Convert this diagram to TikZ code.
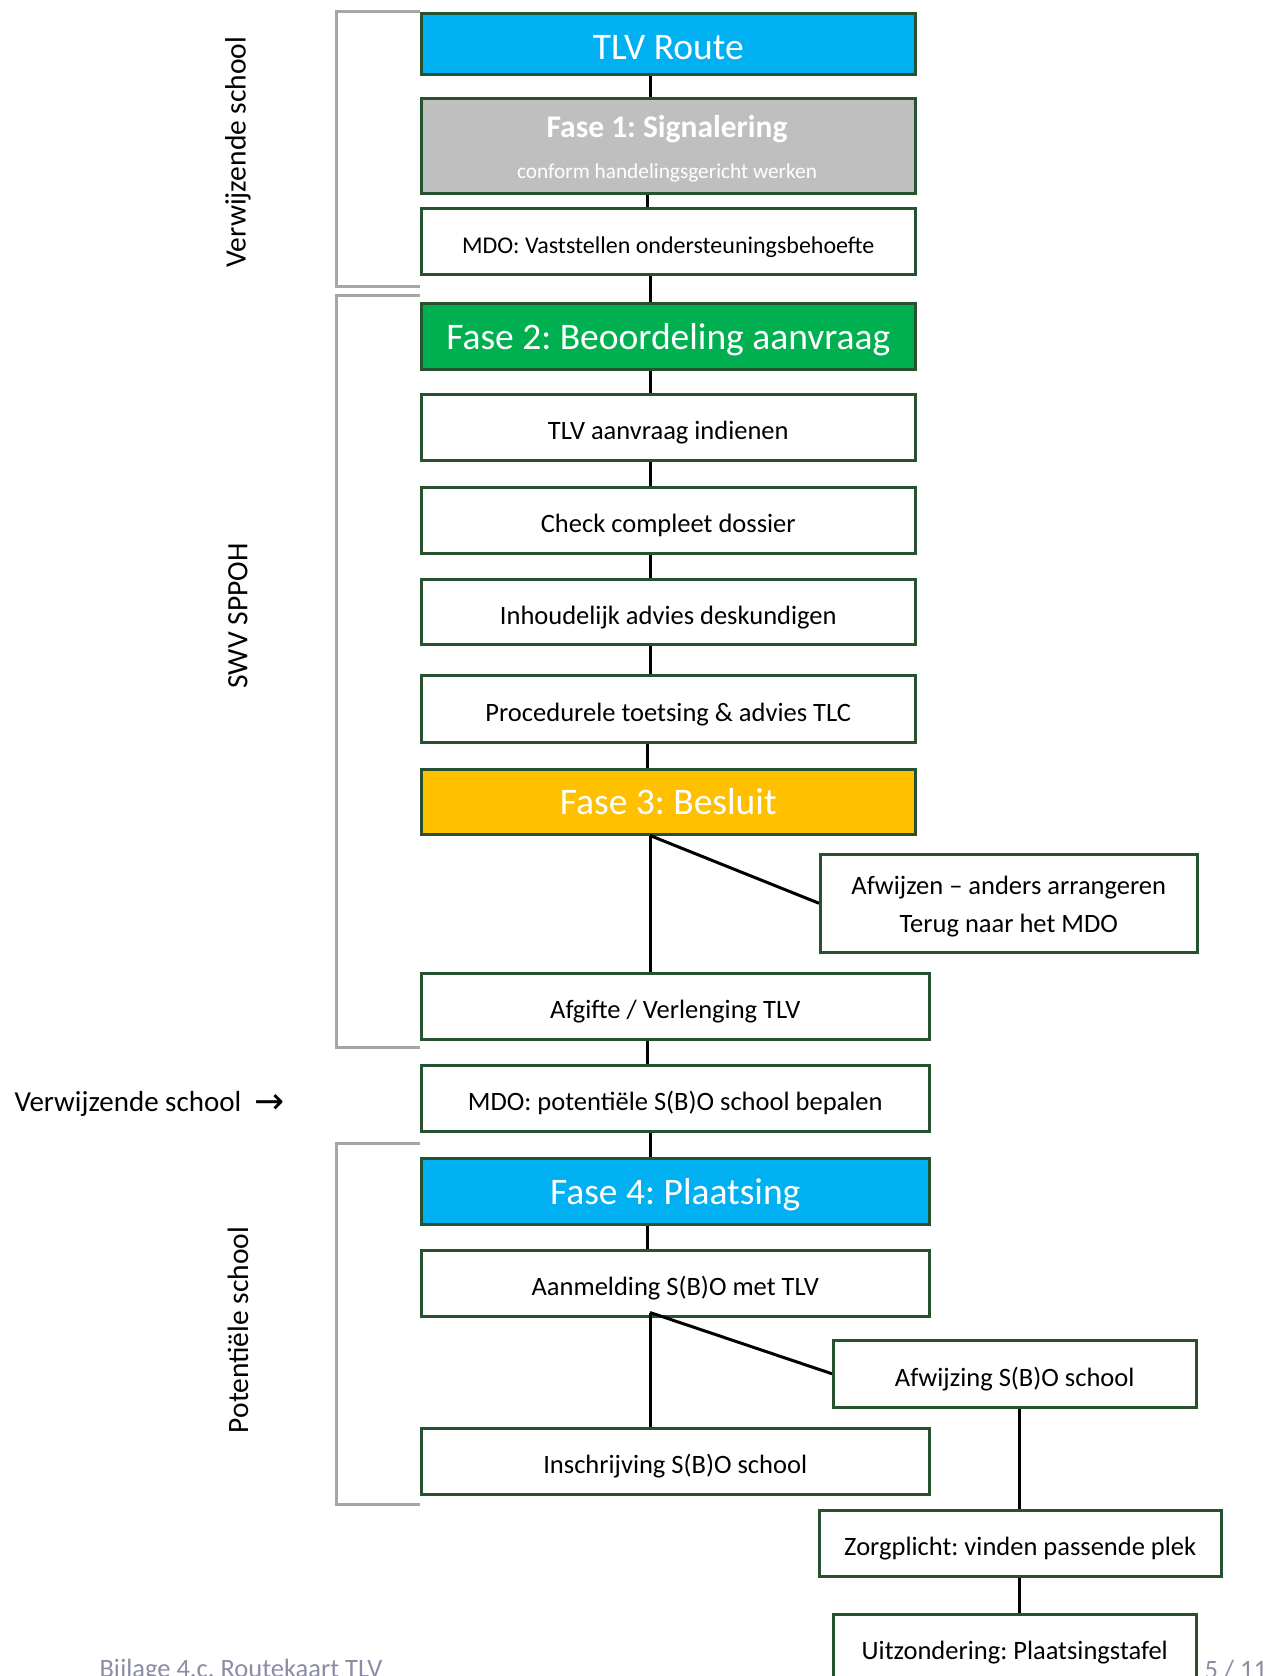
\documentclass[tikz,border=0pt]{standalone}
\usepackage{fontspec}
\setmainfont{Carlito}
\newfontfamily\arrowfont{DejaVu Sans}
\definecolor{boxgreen}{RGB}{38,82,48}
\definecolor{fblue}{RGB}{0,176,240}
\definecolor{fgreen}{RGB}{0,176,80}
\definecolor{fyellow}{RGB}{255,192,0}
\definecolor{fgray}{RGB}{191,191,191}
\definecolor{brgray}{RGB}{166,166,166}
\definecolor{footgray}{RGB}{140,140,165}
\frenchspacing
\begin{document}
\begin{tikzpicture}[x=1pt,y=-1pt,
  boxbase/.style={draw=boxgreen, line width=2.5pt, anchor=north west, inner sep=0pt,
    font=\fontsize{26.5}{38}\selectfont, align=center, fill=white},
  box/.style={boxbase, text height=26.5pt, text depth=2pt},
  sz/.style n args={2}{minimum width=#1pt, minimum height=#2pt},
  big/.style={font=\fontsize{37.5}{40}\selectfont, text=white, text height=31pt, text depth=5pt},
  conn/.style={line width=3pt, black},
  brack/.style={line width=3pt, brgray},
  side/.style={font=\fontsize{29.5}{32}\selectfont, rotate=90}]
\useasboundingbox (0,0) rectangle (1269,1676);
\clip (0,0) rectangle (1269,1676);

% brackets
\draw[brack] (420,11) -- (336,11) -- (336,286) -- (420,286);
\draw[brack] (420,295) -- (336,295) -- (336,1047) -- (420,1047);
\draw[brack] (420,1143) -- (336,1143) -- (336,1504) -- (420,1504);

% side labels
\node[side] (lab1) at (238,152) {Verwijzende school};
\node[side] (lab2) at (238,616) {SWV SPPOH};
\node[side] (lab3) at (238,1330) {Potentiële school};
\node[font=\fontsize{29}{32}\selectfont, anchor=base west] (lab4) at (11,1111) {Verwijzende school\hspace{13pt}\raisebox{-2pt}{\arrowfont\fontsize{36}{38}\selectfont →}};

% boxes
\node[box, sz={494}{61}, fill=fblue, big, text height=33pt, text depth=2pt] (route) at (420,12) {TLV Route};
\node[box, sz={494}{95}, fill=fgray] (f1) at (420,97) {};
\node[anchor=base, font=\fontsize{31.5}{32}\selectfont\bfseries, text=white] (f1a) at (667,137) {Fase 1: Signalering};
\node[anchor=base, font=\fontsize{21.3}{24}\selectfont, text=white] (f1b) at (667,178) {conform handelingsgericht werken};
\node[box, sz={494}{66}, font=\fontsize{24}{28}\selectfont] (mdo1) at (420,207) {MDO: Vaststellen ondersteuningsbehoefte};
\node[box, sz={494}{66}, fill=fgreen, big] (f2) at (420,302) {Fase 2: Beoordeling aanvraag};
\node[box, sz={494}{66}] (aanv) at (420,393) {TLV aanvraag indienen};
\node[box, sz={494}{66}] (check) at (420,486) {Check compleet dossier};
\node[box, sz={494}{65}] (inh) at (420,578) {Inhoudelijk advies deskundigen};
\node[box, sz={494}{67}] (proc) at (420,674) {Procedurele toetsing \& advies TLC};
\node[box, sz={494}{65}, fill=fyellow, big] (f3) at (420,768) {Fase 3: Besluit};
\node[boxbase, sz={377}{98}] (afw) at (819,853) {\rule{0pt}{26pt}Afwijzen – anders arrangeren\\Terug naar het MDO};
\node[box, sz={508}{66}] (afg) at (420,972) {Afgifte / Verlenging TLV};
\node[box, sz={508}{66}] (mdo2) at (420,1064) {MDO: potentiële S(B)O school bepalen};
\node[box, sz={508}{66}, fill=fblue, big] (f4) at (420,1157) {Fase 4: Plaatsing};
\node[box, sz={508}{66}] (aanm) at (420,1249) {Aanmelding S(B)O met TLV};
\node[box, sz={363}{67}] (afs) at (832,1339) {Afwijzing S(B)O school};
\node[box, sz={508}{66}] (insch) at (420,1427) {Inschrijving S(B)O school};
\node[box, sz={402}{66}] (zorg) at (818,1509) {Zorgplicht: vinden passende plek};
\node[box, sz={363}{80}, text height=14pt, text depth=4pt] (uitz) at (832,1613) {Uitzondering: Plaatsingstafel};

% footer
\node[anchor=base west, font=\fontsize{26.5}{30}\selectfont, text=footgray] (foot1) at (96,1677) {Bijlage 4.c. Routekaart TLV};
\node[anchor=base west, font=\fontsize{26.5}{30}\selectfont, text=footgray] (foot2) at (1201,1678) {5 / 11};

% connectors
\coordinate (cx) at (650,0);
\coordinate (cy) at (647,0);
\coordinate (cz) at (1019,0);
\draw[conn] (route.south -| cx) -- (f1.north -| cx);
\draw[conn] (f1.south -| cy) -- (mdo1.north -| cy);
\draw[conn] (mdo1.south -| cx) -- (f2.north -| cx);
\draw[conn] (f2.south -| cx) -- (aanv.north -| cx);
\draw[conn] (aanv.south -| cx) -- (check.north -| cx);
\draw[conn] (check.south -| cx) -- (inh.north -| cx);
\draw[conn] (inh.south -| cx) -- (proc.north -| cx);
\draw[conn] (proc.south -| cy) -- (f3.north -| cy);
\draw[conn] (f3.south -| cx) -- (afg.north -| cx);
\draw[conn] (f3.south -| cx) -- (afw.west);
\draw[conn] (afg.south -| cy) -- (mdo2.north -| cy);
\draw[conn] (mdo2.south -| cx) -- (f4.north -| cx);
\draw[conn] (f4.south -| cy) -- (aanm.north -| cy);
\coordinate (asplit) at ([yshift=5pt]aanm.south -| cx);
\draw[conn] (asplit) -- (insch.north -| cx);
\draw[conn] (asplit) -- (afs.west);
\draw[conn] (afs.south -| cz) -- (zorg.north -| cz);
\draw[conn] (zorg.south -| cz) -- (uitz.north -| cz);
\end{tikzpicture}
\end{document}
